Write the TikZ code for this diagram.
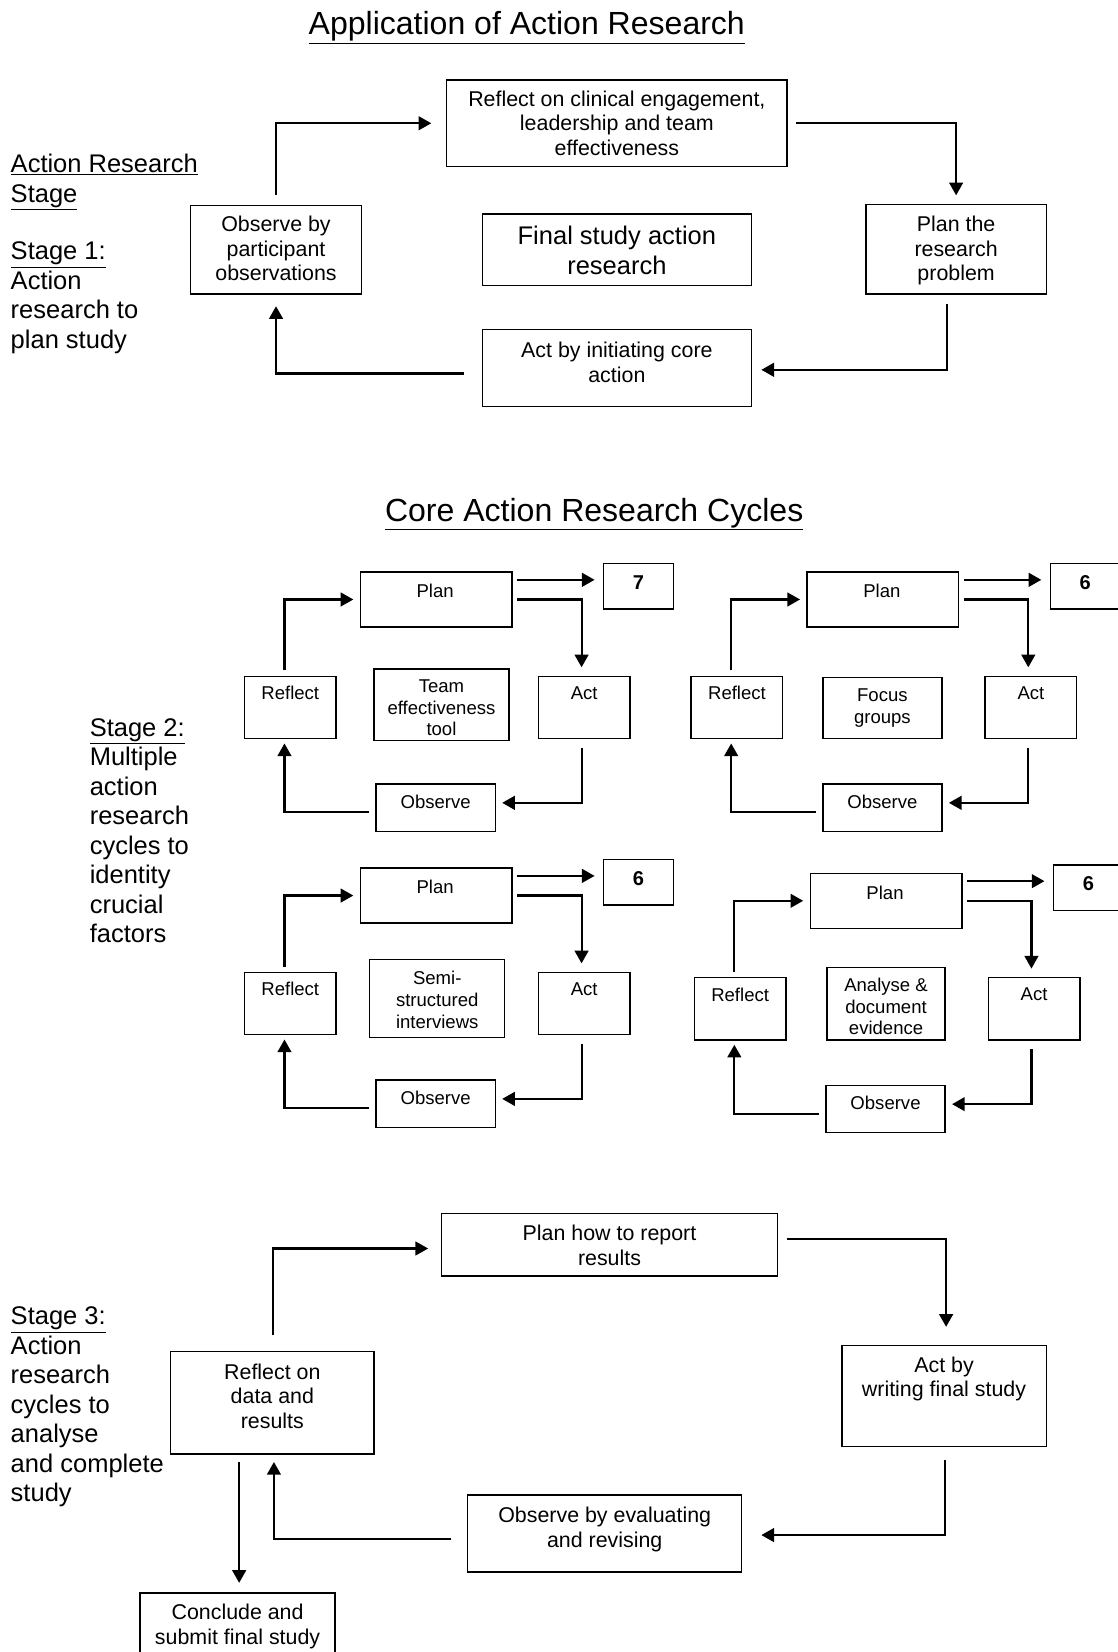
\documentclass[tikz,border=0pt]{standalone}
\usepackage{fontspec}
\setmainfont{Liberation Sans}
\usetikzlibrary{arrows.meta,calc}
\newcommand\fT{\fontsize{30.4}{36}\selectfont}
\newcommand\fB{\fontsize{24.2}{28}\selectfont}
\newcommand\fM{\fontsize{20.3}{23.3}\selectfont}
\newcommand\fS{\fontsize{17.6}{20.5}\selectfont}
\newcommand\fN{\fontsize{19}{22}\selectfont\bfseries}
\newcommand\bx[5]{\node[box,minimum width={#4-#2},minimum height={#5-#3}] (#1) at ({(#2+#4)/2},{(#3+#5)/2}) {};}
\newcommand\cyc[9]{%
\begin{scope}[shift={(#2,#3)}]
\bx{#1p}{342}{543}{486}{595}
\bx{#1n}{573}{535}{639}{578}
\bx{#1r}{232}{642}{319}{701}
\bx{#1a}{511}{642}{598}{701}
\bx{#1o}{357}{744}{470}{789}
\bx{#1m}{#5}{#6}{#7}{#8}
\node[txt,font=\fS,mid#1] (#1tm) at ({(#5+#7)/2},{(#6+#8)/2}) {#9};
\node[txt,font=\fS] (#1tp) at (413,561) {Plan};
\node[txt,font=\fN] (#1tn) at (606,553) {#4};
\node[txt,font=\fS] (#1tr) at (275.5,658) {Reflect};
\node[txt,font=\fS] (#1ta) at (554.5,658) {Act};
\node[txt,font=\fS] (#1to) at (413.5,761) {Observe};
\end{scope}
\coordinate (#1c1) at ($(#1p.north east)+(4,8)$);
\draw[arr,shorten >=8pt] (#1c1) -- (#1c1 -| #1n.west);
\draw[arr,shorten >=8pt] ($(#1p.east)+(4,0)$) -| ($(#1a.north)+(-2.5,0)$);
\draw[arr,shorten >=6pt] ($(#1a.south)+(-2.5,8)$) |- ($(#1o.east)+(0,-4.5)$);
\draw[arr,shorten >=4pt] ($(#1o.west)+(-6,4.5)$) -| ($(#1r.south)+(-5.5,0)$);
\draw[arr,shorten >=6pt] ($(#1r.north)+(-5.5,-5)$) |- (#1p.west);
}
\tikzset{midA/.style={yshift=-3pt},midB/.style={},midC/.style={yshift=-1pt},midD/.style={yshift=-3pt}}
\begin{document}
\begin{tikzpicture}[x=1pt,y=-1pt,
  box/.style={draw,line width=1.3pt,inner sep=0pt},
  arr/.style={line width=2pt,-{Triangle[length=12pt,width=13pt]}},
  txt/.style={inner sep=0pt,align=center},
  lbl/.style={inner sep=0pt,align=left,anchor=north west,font=\fB}]
\useasboundingbox[fill=white] (0,0) rectangle (1061,1568);

% ---------- Stage 1 ----------
\node[txt,font=\fT] (title1) at (500,26) {\underline{Application of Action Research}};
\node[lbl] (stage1) at (10,146) {\underline{Action Research}\\\underline{Stage}\\[27pt]\underline{Stage 1:}\\Action\\research to\\plan study};

\bx{reflA}{424}{76}{747}{158}
\bx{obsA}{181}{195}{343}{279}
\bx{finA}{458}{203}{713}{271}
\bx{planA}{822}{194}{993}{279}
\bx{actA}{458}{313}{713}{386}
\node[txt,font=\fM] (treflA) at (585.5,117) {Reflect on clinical engagement,\\leadership and team\\effectiveness};
\node[txt,font=\fM] (tobsA) at (262,236) {Observe by\\participant\\observations};
\node[txt,font=\fB] (tfinA) at (585.5,237.5) {Final study action\\research};
\node[txt,font=\fM] (tplanA) at (907.5,238) {Plan the\\research\\problem};
\node[txt,font=\fM] (tactA) at (585.5,344) {Act by initiating core\\action};

\draw[arr,shorten >=14pt] ($(obsA.north)+(0,-9)$) |- (reflA.west);
\draw[arr,shorten >=8pt] ($(reflA.east)+(8,0)$) -| (planA.north);
\draw[arr,shorten >=9pt] ($(planA.south)+(-8.5,9)$) |- ($(actA.east)+(0,1.5)$);
\draw[arr,shorten >=11pt] ($(actA.west)+(-17,5)$) -| (obsA.south);

% ---------- Stage 2 ----------
\node[txt,font=\fT] (title2) at (564,488) {\underline{Core Action Research Cycles}};
\node[lbl] (stage2) at (85,681.5) {\underline{Stage 2:}\\Multiple\\action\\research\\cycles to\\identity\\crucial\\factors};

\cyc{A}{0}{0}{7}{355}{635}{483}{703}{Team\\effectiveness\\tool}
\cyc{B}{424}{0}{6}{357}{643}{470}{701}{Focus\\groups}
\cyc{C}{0}{281}{6}{351}{630}{479}{704}{Semi-\\structured\\interviews}
\cyc{D}{427}{286}{6}{358}{632}{470}{701}{Analyse \&\\document\\evidence}

% ---------- Stage 3 ----------
\node[lbl] (stage3) at (10,1240.5) {\underline{Stage 3:}\\Action\\research\\cycles to\\analyse\\and complete\\study};

\bx{planC}{419}{1152}{738}{1211}
\bx{actC}{799}{1277}{993}{1373}
\bx{reflC}{162}{1283}{355}{1380}
\bx{obsC}{444}{1419}{704}{1492}
\bx{concC}{133}{1512}{318}{1580}
\node[txt,font=\fM] (tplanC) at (578.5,1182) {Plan how to report\\results};
\node[txt,font=\fM] (tactC) at (896,1309) {Act by\\writing final study};
\node[txt,font=\fM] (treflC) at (258.5,1325) {Reflect on\\data and\\results};
\node[txt,font=\fM] (tobsC) at (574,1451.5) {Observe by evaluating\\and revising};
\node[txt,font=\fM] (tconcC) at (225.5,1544) {Conclude and\\submit final study};

\draw[arr,shorten >=12pt] ($(reflC.north)+(0.5,-15)$) |- ($(planC.west)+(0,3.5)$);
\draw[arr,shorten >=17pt] ($(planC.east)+(8,-5.5)$) -| ($(actC.north)+(2,0)$);
\draw[arr,shorten >=18pt] ($(actC.south)+(1,12)$) |- ($(obsC.east)+(0,1.5)$);
\draw[arr,shorten >=7pt] ($(obsC.west)+(-15,5.5)$) -| ($(reflC.south)+(1.5,0)$);
\coordinate (r1) at ($(reflC.south)+(-31.5,7)$);
\draw[arr,shorten >=9pt] (r1) -- (r1 |- concC.north);
\end{tikzpicture}
\end{document}
